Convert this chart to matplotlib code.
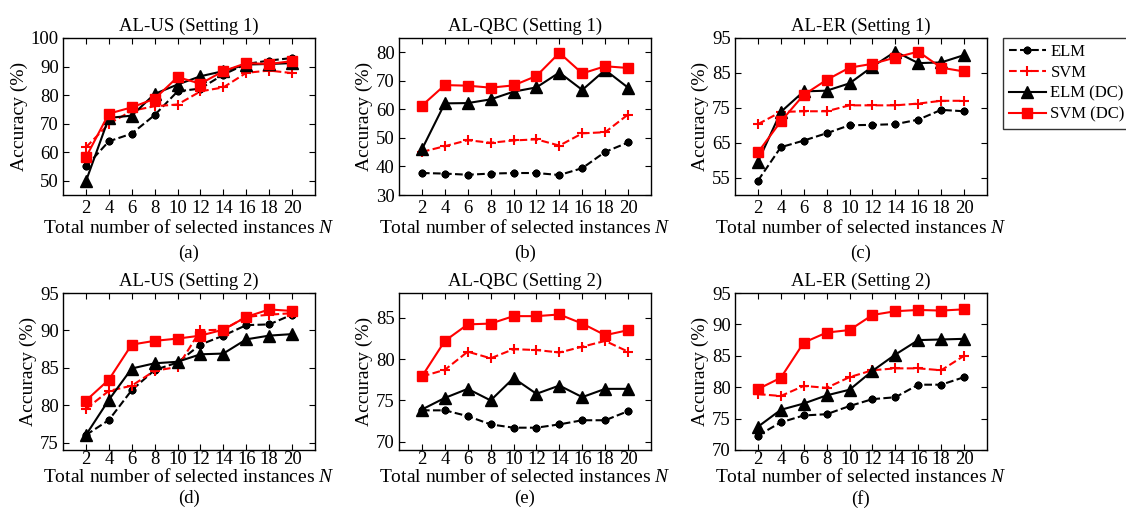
import matplotlib
matplotlib.use("Agg")
import matplotlib.pyplot as plt

plt.rcParams['font.family'] = ['Liberation Serif', 'DejaVu Serif']
plt.rcParams['mathtext.fontset'] = 'custom'
plt.rcParams['mathtext.it'] = 'Liberation Serif:italic'
plt.rcParams['mathtext.rm'] = 'Liberation Serif'

# number of selected instances
n_sel = [2, 4, 6, 8, 10, 12, 14, 16, 18, 20]

# (a) AL-US, setting 1
us1_elm = [55.0, 63.8, 66.5, 73.0, 81.3, 82.3, 87.2, 90.9, 92.1, 93.0]
us1_svm = [61.7, 69.9, 74.5, 76.1, 76.7, 81.3, 82.7, 87.8, 88.6, 87.7]
us1_elm_dc = [49.8, 72.0, 72.8, 80.4, 83.7, 86.6, 88.4, 90.7, 90.9, 91.2]
us1_svm_dc = [58.2, 73.5, 75.7, 78.7, 86.3, 84.0, 88.4, 91.2, 90.9, 91.9]

# (b) AL-QBC, setting 1
qbc1_elm = [37.7, 37.5, 37.1, 37.5, 37.7, 37.7, 37.0, 39.4, 45.1, 48.4]
qbc1_svm = [45.1, 47.1, 49.2, 48.3, 49.1, 49.5, 47.3, 51.6, 52.0, 58.2]
qbc1_elm_dc = [46.0, 62.1, 62.2, 63.5, 66.2, 67.7, 72.9, 66.8, 73.8, 67.6]
qbc1_svm_dc = [61.3, 68.5, 68.3, 67.6, 68.4, 71.7, 79.8, 72.6, 75.1, 74.5]

# (c) AL-ER, setting 1
er1_elm = [54.1, 63.7, 65.6, 67.7, 70.0, 70.1, 70.3, 71.6, 74.4, 74.0]
er1_svm = [70.3, 73.8, 74.0, 74.0, 75.7, 75.7, 75.7, 76.2, 77.0, 77.0]
er1_elm_dc = [59.5, 73.8, 79.7, 79.9, 82.0, 86.8, 91.1, 87.8, 88.0, 90.1]
er1_svm_dc = [62.2, 71.1, 78.7, 83.0, 86.5, 87.6, 89.4, 91.1, 86.5, 85.4]

# (d) AL-US, setting 2
us2_elm = [76.0, 78.0, 82.0, 84.7, 85.7, 88.1, 89.3, 90.7, 90.8, 92.1]
us2_svm = [79.5, 81.9, 82.6, 84.6, 85.1, 90.0, 90.1, 91.8, 92.1, 92.3]
us2_elm_dc = [76.0, 80.7, 84.9, 85.6, 85.8, 86.8, 86.9, 88.8, 89.3, 89.5]
us2_svm_dc = [80.6, 83.4, 88.1, 88.6, 88.9, 89.3, 90.1, 91.8, 92.8, 92.6]

# (e) AL-QBC, setting 2
qbc2_elm = [73.8, 73.8, 73.1, 72.1, 71.7, 71.7, 72.1, 72.6, 72.6, 73.7]
qbc2_svm = [77.9, 78.7, 80.9, 80.1, 81.2, 81.1, 80.8, 81.5, 82.2, 80.9]
qbc2_elm_dc = [73.9, 75.3, 76.4, 75.0, 77.7, 75.8, 76.8, 75.4, 76.4, 76.4]
qbc2_svm_dc = [77.9, 82.2, 84.2, 84.3, 85.2, 85.2, 85.4, 84.3, 82.9, 83.5]

# (f) AL-ER, setting 2
er2_elm = [72.3, 74.4, 75.5, 75.7, 77.0, 78.1, 78.4, 80.4, 80.4, 81.6]
er2_svm = [78.9, 78.6, 80.2, 79.9, 81.6, 82.7, 83.0, 83.0, 82.7, 85.0]
er2_elm_dc = [73.7, 76.4, 77.4, 78.7, 79.6, 82.6, 85.2, 87.5, 87.6, 87.7]
er2_svm_dc = [79.7, 81.5, 87.1, 88.7, 89.1, 91.5, 92.1, 92.3, 92.2, 92.4]

titles = ["AL-US (Setting 1)", "AL-QBC (Setting 1)", "AL-ER (Setting 1)",
          "AL-US (Setting 2)", "AL-QBC (Setting 2)", "AL-ER (Setting 2)"]
sub_labels = ["(a)", "(b)", "(c)", "(d)", "(e)", "(f)"]
panels = [
    (us1_elm, us1_svm, us1_elm_dc, us1_svm_dc),
    (qbc1_elm, qbc1_svm, qbc1_elm_dc, qbc1_svm_dc),
    (er1_elm, er1_svm, er1_elm_dc, er1_svm_dc),
    (us2_elm, us2_svm, us2_elm_dc, us2_svm_dc),
    (qbc2_elm, qbc2_svm, qbc2_elm_dc, qbc2_svm_dc),
    (er2_elm, er2_svm, er2_elm_dc, er2_svm_dc),
]
y_limits = [(45, 100), (30, 85), (50, 95), (74, 95), (69, 88), (70, 95)]
y_ticks = [range(50, 101, 10), range(30, 81, 10), range(55, 96, 10),
           range(75, 96, 5), range(70, 86, 5), range(70, 96, 5)]

series_names = ["ELM", "SVM", "ELM (DC)", "SVM (DC)"]
styles = [
    dict(color='k', ls='--', marker=(8, 2, 0), ms=5.5, mew=1.8),
    dict(color='#ff0000', ls='--', marker='+', ms=7.5, mew=1.5),
    dict(color='k', ls='-', marker='^', ms=8),
    dict(color='#ff0000', ls='-', marker='s', ms=7),
]

W, H = 1126, 516
fig = plt.figure(figsize=(W / 100, H / 100), dpi=100)

col_left = [63, 399, 735]
row_top = [38, 293]
ax_w, ax_h = 252, 157
# the two rows sit a little differently below the axes
row_tick_pad = [3.5, 1.0]
row_label_pad = [1.5, 0.0]
row_sub_off = [-42, -35]

fs = 13.5
handles = []
for i, (vals, ttl, sub, ylim, yt) in enumerate(zip(panels, titles, sub_labels, y_limits, y_ticks)):
    r, c = divmod(i, 3)
    left = col_left[c] / W
    bottom = 1 - (row_top[r] + ax_h) / H
    ax = fig.add_axes([left, bottom, ax_w / W, ax_h / H])
    for v, st, name in zip(vals, styles, series_names):
        h, = ax.plot(n_sel, v, lw=1.5, label=name, **st)
        if i == 0:
            handles.append(h)
    ax.set_xlim(0, 22)
    ax.set_ylim(*ylim)
    ax.set_xticks(n_sel)
    ax.set_yticks(list(yt))
    ax.tick_params(direction='in', top=True, right=True, labelsize=fs, length=4)
    ax.tick_params(axis='x', pad=row_tick_pad[r])
    ax.tick_params(axis='y', pad=3)
    ax.set_title(ttl, fontsize=fs, pad=5)
    ax.set_xlabel("Total number of selected instances $N$", fontsize=14, labelpad=row_label_pad[r])
    ax.set_ylabel("Accuracy (%)", fontsize=14, labelpad=2)
    for sp in ax.spines.values():
        sp.set_linewidth(1.0)
    ax.annotate(sub, xy=(0.5, 0), xycoords='axes fraction', xytext=(0, row_sub_off[r]),
                textcoords='offset points', ha='center', va='center', fontsize=fs)

leg = fig.legend(handles=handles, loc='upper left', bbox_to_anchor=(1003 / W, 1 - 38 / H),
                 borderaxespad=0, fontsize=12, frameon=True, fancybox=False, edgecolor='k',
                 handlelength=2.2, borderpad=0.35, labelspacing=0.3, handletextpad=0.3)
leg.get_frame().set_linewidth(1.0)

fig.savefig("out.png", dpi=100)
